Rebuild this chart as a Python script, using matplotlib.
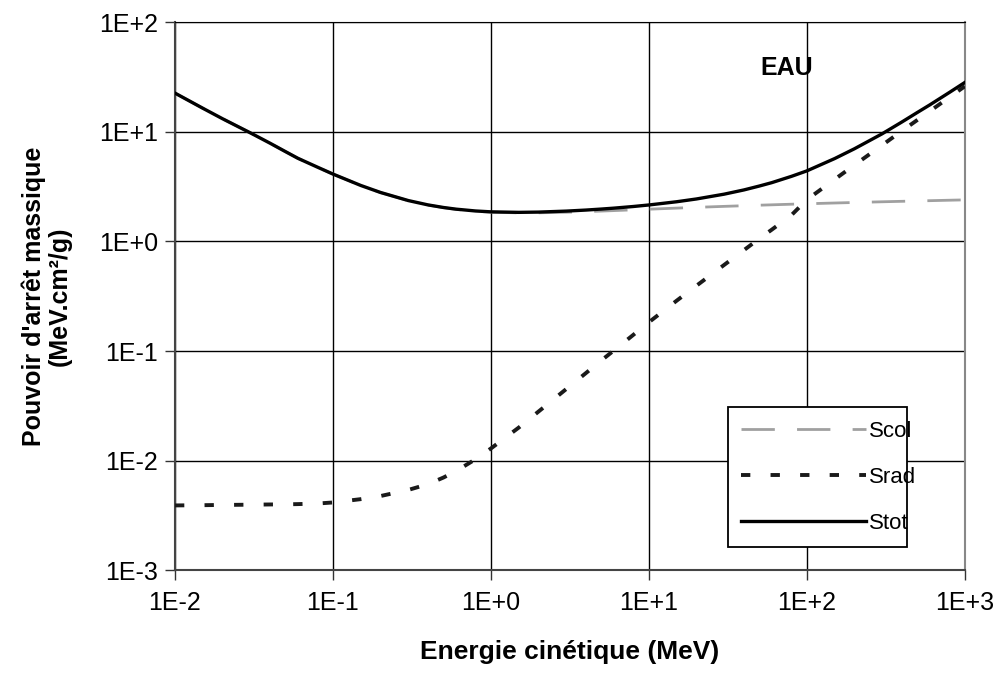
import numpy as np
import matplotlib
matplotlib.use("Agg")
import matplotlib.pyplot as plt
from matplotlib.ticker import FixedLocator, FixedFormatter, NullLocator

# === Stopping power data for water (electrons) ===
energy = [0.01, 0.015, 0.02, 0.03, 0.04, 0.05, 0.06, 0.08, 0.1, 0.15, 0.2,
          0.3, 0.4, 0.5, 0.6, 0.8, 1, 1.5, 2, 3, 4, 5, 6, 8, 10, 15, 20,
          30, 40, 50, 60, 80, 100, 150, 200, 300, 400, 500, 600, 800, 1000]

s_col = [22.56, 16.42, 13.17, 9.785, 7.868, 6.603, 5.731, 4.75, 4.115, 3.238,
         2.793, 2.355, 2.148, 2.034, 1.963, 1.886, 1.849, 1.822, 1.824, 1.846,
         1.870, 1.892, 1.911, 1.943, 1.968, 2.014, 2.046, 2.089, 2.118, 2.141,
         2.158, 2.186, 2.206, 2.242, 2.266, 2.300, 2.323, 2.340, 2.354, 2.377,
         2.394]

s_rad = [3.90e-3, 3.92e-3, 3.94e-3, 3.96e-3, 3.98e-3, 3.99e-3, 4.01e-3,
         4.06e-3, 4.15e-3, 4.45e-3, 4.75e-3, 5.4e-3, 6.1e-3, 7.0e-3, 8.0e-3,
         1.03e-2, 1.29e-2, 2.0e-2, 2.8e-2, 4.5e-2, 6.3e-2, 8.2e-2, 0.101,
         0.141, 0.183, 0.288, 0.394, 0.611, 0.833, 1.06, 1.28, 1.74, 2.40,
         3.68, 4.97, 7.56, 10.2, 12.8, 15.4, 20.7, 26.0]

s_tot = [22.56, 16.42, 13.17, 9.789, 7.872, 6.607, 5.735, 4.754, 4.119, 3.242,
         2.798, 2.360, 2.154, 2.041, 1.971, 1.896, 1.862, 1.842, 1.852, 1.891,
         1.933, 1.974, 2.012, 2.084, 2.151, 2.302, 2.440, 2.700, 2.951, 3.201,
         3.438, 3.926, 4.40, 5.70, 7.00, 9.60, 12.30, 15.00, 17.60, 22.90,
         28.20]

x_ticks = [1e-2, 1e-1, 1e0, 1e1, 1e2, 1e3]
x_labels = ["1E-2", "1E-1", "1E+0", "1E+1", "1E+2", "1E+3"]
y_ticks = [1e-3, 1e-2, 1e-1, 1e0, 1e1, 1e2]
y_labels = ["1E-3", "1E-2", "1E-1", "1E+0", "1E+1", "1E+2"]

plt.rcParams['font.family'] = ['Liberation Sans', 'DejaVu Sans']

fig = plt.figure(figsize=(10.01, 6.74), dpi=100)
ax = fig.add_axes([0.1748, 0.154, 0.789, 0.813])

ax.set_xscale('log')
ax.set_yscale('log')
ax.set_xlim(1e-2, 1e3)
ax.set_ylim(1e-3, 1e2)

# grid
ax.grid(True, which='major', color='black', linewidth=1.0)
ax.set_axisbelow(True)

ax.plot(energy, s_col, color='#a0a0a0', linewidth=2.0, dashes=(12, 8),
        label='Scol', zorder=3)
ax.plot(energy, s_rad, color='#1a1a1a', linewidth=2.8, dashes=(2.4, 5.2),
        label='Srad', zorder=4)
ax.plot(energy, s_tot, color='black', linewidth=2.4, label='Stot', zorder=5)

ax.xaxis.set_major_locator(FixedLocator(x_ticks))
ax.xaxis.set_major_formatter(FixedFormatter(x_labels))
ax.yaxis.set_major_locator(FixedLocator(y_ticks))
ax.yaxis.set_major_formatter(FixedFormatter(y_labels))
ax.xaxis.set_minor_locator(NullLocator())
ax.yaxis.set_minor_locator(NullLocator())
ax.tick_params(axis='both', direction='out', length=7, width=1, labelsize=18,
               color='#333333')
ax.tick_params(axis='x', pad=8)
ax.tick_params(axis='y', pad=5)

for side in ['left', 'bottom']:
    ax.spines[side].set_color('#444444')
    ax.spines[side].set_linewidth(1.5)
ax.spines['top'].set_color('black')
ax.spines['right'].set_color('#888888')
ax.spines['right'].set_linewidth(1.5)

ax.set_xlabel("Energie cinétique (MeV)", fontsize=19, fontweight='bold',
              labelpad=18)
ax.set_ylabel("Pouvoir d'arrêt massique\n(MeV.cm²/g)", fontsize=18,
              fontweight='bold', labelpad=20, linespacing=1.1)

ax.text(0.775, 0.916, "EAU", transform=ax.transAxes, fontsize=18,
        fontweight='bold', ha='center', va='center')

leg = ax.legend(loc='lower left', bbox_to_anchor=(0.70, 0.042, 0.227, 0.25),
                mode='expand', borderaxespad=0, fontsize=16, handlelength=5.6,
                handletextpad=0.15, labelspacing=1.13, borderpad=0.6,
                fancybox=False, framealpha=1, edgecolor='black')
leg.get_frame().set_linewidth(1.3)

fig.savefig("out.png", dpi=100)
